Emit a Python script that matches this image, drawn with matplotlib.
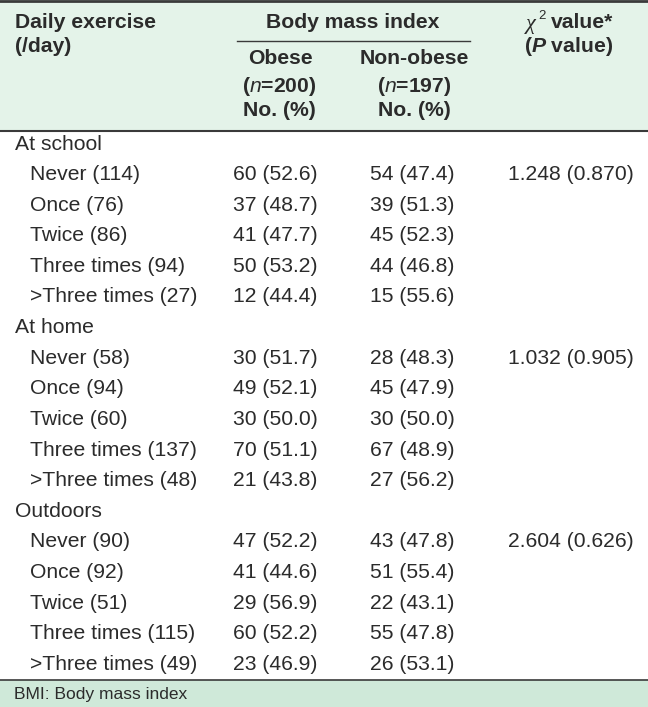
import matplotlib
matplotlib.use("Agg")
import matplotlib.pyplot as plt

plt.rcParams["font.family"] = ["Liberation Sans", "DejaVu Sans"]
plt.rcParams["mathtext.fontset"] = "custom"
plt.rcParams["mathtext.rm"] = "Liberation Sans"
plt.rcParams["mathtext.it"] = "Liberation Sans:italic"
plt.rcParams["mathtext.bf"] = "Liberation Sans:bold"
plt.rcParams["mathtext.bfit"] = "Liberation Sans:bold:italic"

SECTIONS = ["At school", "At home", "Outdoors"]
LEVELS = ["Never", "Once", "Twice", "Three times", ">Three times"]
TOTALS = [[114, 76, 86, 94, 27],
          [58, 94, 60, 137, 48],
          [90, 92, 51, 115, 49]]
OBESE_N = [[60, 37, 41, 50, 12],
           [30, 49, 30, 70, 21],
           [47, 41, 29, 60, 23]]
OBESE_PCT = [[52.6, 48.7, 47.7, 53.2, 44.4],
             [51.7, 52.1, 50.0, 51.1, 43.8],
             [52.2, 44.6, 56.9, 52.2, 46.9]]
NONOB_N = [[54, 39, 45, 44, 15],
           [28, 45, 30, 67, 27],
           [43, 51, 22, 55, 26]]
NONOB_PCT = [[47.4, 51.3, 52.3, 46.8, 55.6],
             [48.3, 47.9, 50.0, 48.9, 56.2],
             [47.8, 55.4, 43.1, 47.8, 53.1]]
CHI2 = [1.248, 1.032, 2.604]
PVAL = [0.870, 0.905, 0.626]

W, H = 648, 707
TXT = "#2b2b2b"
HEAD_BG = "#e4f3e9"
FOOT_BG = "#cfe9d9"
FS = 15.2

fig = plt.figure(figsize=(W / 100, H / 100), dpi=100)
ax = fig.add_axes([0, 0, 1, 1])
ax.set_xlim(0, W)
ax.set_ylim(H, 0)
ax.axis("off")

# header / footer bands and rules
ax.add_patch(plt.Rectangle((0, 0), W, 131, color=HEAD_BG, lw=0))
ax.add_patch(plt.Rectangle((0, 680), W, H - 680, color=FOOT_BG, lw=0))
ax.plot([0, W], [1, 1], color="#3a3a3a", lw=2)
ax.plot([0, W], [131, 131], color="#3a3a3a", lw=1.5)
ax.plot([0, W], [680, 680], color="#3a3a3a", lw=1.2)
ax.plot([237, 470], [41, 41], color="#3a3a3a", lw=1)

hd = dict(fontsize=FS, fontweight="bold", color=TXT, va="center")
ax.text(15, 22, "Daily exercise", ha="left", **hd)
ax.text(15, 47, "(/day)", ha="left", **hd)
ax.text(353, 22, "Body mass index", ha="center", **hd)
ax.text(280, 59, "Obese", ha="center", **hd)
ax.text(279, 86, r"($\mathit{n}$=200)", ha="center", **hd)
ax.text(279, 111, "No. (%)", ha="center", **hd)
ax.text(414, 59, "Non-obese", ha="center", **hd)
ax.text(414, 86, r"($\mathit{n}$=197)", ha="center", **hd)
ax.text(414, 111, "No. (%)", ha="center", **hd)
# chi-square header: serif italic chi, small superscript 2
ax.text(526, 25, "χ", ha="left", va="center", fontsize=16, color=TXT,
        style="italic", family="Liberation Serif")
ax.text(538, 16, "2", ha="left", va="center", fontsize=9.5, color=TXT)
ax.text(551, 22, "value*", ha="left", **hd)
ax.text(569, 47, r"($\mathbfit{P}$ value)", ha="center", **hd)

bd = dict(fontsize=FS, color=TXT, va="center")
y = 144
step = 30.6
for s, sec in enumerate(SECTIONS):
    ax.text(15, y, sec, ha="left", **bd)
    y += step
    for i, lev in enumerate(LEVELS):
        ax.text(30, y, f"{lev} ({TOTALS[s][i]})", ha="left", **bd)
        ax.text(233, y, f"{OBESE_N[s][i]} ({OBESE_PCT[s][i]:.1f})",
                ha="left", **bd)
        ax.text(370, y, f"{NONOB_N[s][i]} ({NONOB_PCT[s][i]:.1f})",
                ha="left", **bd)
        if i == 0:
            ax.text(508, y, f"{CHI2[s]:.3f} ({PVAL[s]:.3f})", ha="left", **bd)
        y += step

ax.text(14, 694, "BMI: Body mass index", ha="left", va="center",
        fontsize=12.5, color=TXT)

fig.savefig("out.png", dpi=100)
